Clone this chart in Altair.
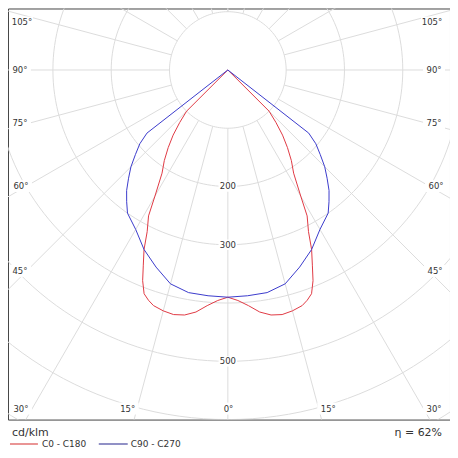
import altair as alt
import numpy as np
import pandas as pd

# ---------------- data ----------------
# C0 - C180 (red): gamma angle (deg from nadir), luminous intensity (cd/klm), one half
red_gamma = [0, 2.5, 5, 7.5, 10, 12.5, 15, 17.5, 19, 20.5, 22, 23.4, 25, 26.5,
             28.5, 30, 32.5, 35, 37.5, 40, 42.5, 45, 50]
red_cd = [390, 396, 406, 419, 427, 430, 428, 424, 418, 410, 390, 365, 340, 310,
          285, 250, 210, 190, 168, 146, 122, 100, 0]
# C90 - C270 (blue)
blue_gamma = [0, 5, 10, 15, 20, 25, 30, 35, 37.5, 40, 42.5, 45, 47.5, 50, 52, 55]
blue_cd = [390, 389, 388, 380, 360, 340, 316, 300, 285, 270, 252, 235, 215, 197, 176, 0]

series_names = ["C0 - C180", "C90 - C270"]
series_colors = ["#e03a44", "#3b3bcc"]

grid_radii = [100, 200, 300, 400, 500, 600, 700, 800]
radius_labels = [200, 300, 500]
grid_angles = list(range(-180, 181, 15))

angle_label_text = ["105°", "90°", "75°", "60°", "45°", "30°", "15°", "0°",
                    "15°", "30°", "45°", "60°", "75°", "90°", "105°"]

unit_label = "cd/klm"
efficiency_label = "η = 62%"

# ---------------- layout (pixels, relative to plot area) ----------------
W, H = 443, 412
label_px = [14, 12, 12, 13, 12, 13, 120, 221, 321, 427, 428, 429, 427, 427, 425]
label_py = [14, 62, 115, 178, 263, 401, 401, 401, 401, 401, 263, 178, 115, 62, 14]

xs = alt.Scale(domain=[-377, 381], nice=False, zero=False)
ys = alt.Scale(domain=[-600, 105.5], nice=False, zero=False)
FONT = "DejaVu Sans"
TXT = "#333333"
GRID = "#dcdcdc"


def path(g, v, name):
    rows = []
    pairs = list(zip(g, v))
    seq = 0
    for gg, vv in reversed(pairs):
        rows.append(dict(series=name, gamma=-gg, cd=vv, seq=seq))
        seq += 1
    for gg, vv in pairs[1:]:
        rows.append(dict(series=name, gamma=gg, cd=vv, seq=seq))
        seq += 1
    return rows


curves = pd.DataFrame(path(red_gamma, red_cd, series_names[0]) +
                      path(blue_gamma, blue_cd, series_names[1]))

ts = np.arange(0, 361, 2)
circles = pd.DataFrame([dict(r=r, t=float(t)) for r in grid_radii for t in ts])
spokes = pd.DataFrame({"a": grid_angles})
rlabels = pd.DataFrame({"r": radius_labels, "txt": [str(v) for v in radius_labels]})
alabels = pd.DataFrame({"txt": angle_label_text, "px": label_px, "py": label_py})

circle_layer = alt.Chart(circles).mark_line(color=GRID, strokeWidth=1, clip=True).transform_calculate(
    x="datum.r*cos(datum.t*PI/180)", y="datum.r*sin(datum.t*PI/180)"
).encode(
    x=alt.X("x:Q", scale=xs, axis=None),
    y=alt.Y("y:Q", scale=ys, axis=None),
    detail="r:N",
    order="t:Q",
)

spoke_layer = alt.Chart(spokes).mark_rule(color=GRID, strokeWidth=1, clip=True).transform_calculate(
    x="100*sin(datum.a*PI/180)", y="-100*cos(datum.a*PI/180)",
    x2="900*sin(datum.a*PI/180)", y2="-900*cos(datum.a*PI/180)",
).encode(
    x=alt.X("x:Q", scale=xs, axis=None), y=alt.Y("y:Q", scale=ys, axis=None),
    x2="x2:Q", y2="y2:Q",
)

rlabel_bg = alt.Chart(rlabels).mark_rect(color="white").transform_calculate(
    x="-16", x2="16", y="-datum.r-9", y2="-datum.r+9"
).encode(
    x=alt.X("x:Q", scale=xs, axis=None), y=alt.Y("y:Q", scale=ys, axis=None),
    x2="x2:Q", y2="y2:Q",
)

rlabel_txt = alt.Chart(rlabels).mark_text(font=FONT, fontSize=8.5, color=TXT, baseline="middle").transform_calculate(
    x="0", y="-datum.r"
).encode(
    x=alt.X("x:Q", scale=xs, axis=None), y=alt.Y("y:Q", scale=ys, axis=None), text="txt:N",
)

alabel_bg = alt.Chart(alabels).mark_rect(color="white").transform_calculate(
    bx="datum.px-11", bx2="datum.px+11", by="datum.py-6", by2="datum.py+6"
).encode(
    x=alt.X("bx:Q", scale=None, axis=None), x2="bx2:Q",
    y=alt.Y("by:Q", scale=None, axis=None), y2="by2:Q",
)

alabel_txt = alt.Chart(alabels).mark_text(font=FONT, fontSize=8.5, color=TXT, baseline="middle").encode(
    x=alt.X("px:Q", scale=None, axis=None), y=alt.Y("py:Q", scale=None, axis=None), text="txt:N",
)

curve_layer = alt.Chart(curves).mark_line(strokeWidth=1, clip=True).transform_calculate(
    x="datum.cd*sin(datum.gamma*PI/180)", y="-datum.cd*cos(datum.gamma*PI/180)"
).encode(
    x=alt.X("x:Q", scale=xs, axis=None),
    y=alt.Y("y:Q", scale=ys, axis=None),
    color=alt.Color("series:N", scale=alt.Scale(domain=series_names, range=series_colors), legend=None),
    order="seq:Q",
)

# legend below the frame (pixel layout)
leg = pd.DataFrame({
    "name": series_names,
    "col": ["#d42a2a", "#22228c"],
    "lx1": [2, 91], "lx2": [30, 120], "ly": [436.5, 436.5], "tx": [34, 123],
})
leg_lines = alt.Chart(leg).mark_rule(strokeWidth=1).encode(
    x=alt.X("lx1:Q", scale=None, axis=None), x2="lx2:Q",
    y=alt.Y("ly:Q", scale=None, axis=None),
    stroke=alt.Stroke("col:N", scale=None, legend=None),
)
leg_text = alt.Chart(leg).mark_text(font=FONT, fontSize=9, color=TXT, align="left", baseline="middle").encode(
    x=alt.X("tx:Q", scale=None, axis=None), y=alt.Y("ly:Q", scale=None, axis=None), text="name:N",
)
extra = pd.DataFrame({"txt": [unit_label, efficiency_label], "px": [4, 435], "py": [425, 425]})
unit_text = alt.Chart(extra.iloc[[0]]).mark_text(font=FONT, fontSize=11, color=TXT, align="left", baseline="middle").encode(
    x=alt.X("px:Q", scale=None, axis=None), y=alt.Y("py:Q", scale=None, axis=None), text="txt:N",
)
eta_text = alt.Chart(extra.iloc[[1]]).mark_text(font=FONT, fontSize=11, color=TXT, align="right", baseline="middle").encode(
    x=alt.X("px:Q", scale=None, axis=None), y=alt.Y("py:Q", scale=None, axis=None), text="txt:N",
)

chart = alt.layer(
    circle_layer, spoke_layer, rlabel_bg, rlabel_txt, alabel_bg, alabel_txt,
    curve_layer, leg_lines, leg_text, unit_text, eta_text,
).properties(width=W, height=H, padding=0, background="white").configure_view(
    stroke="#444444", strokeWidth=1
)

chart.save("out.html", embed_options={"renderer": "svg", "actions": False})
